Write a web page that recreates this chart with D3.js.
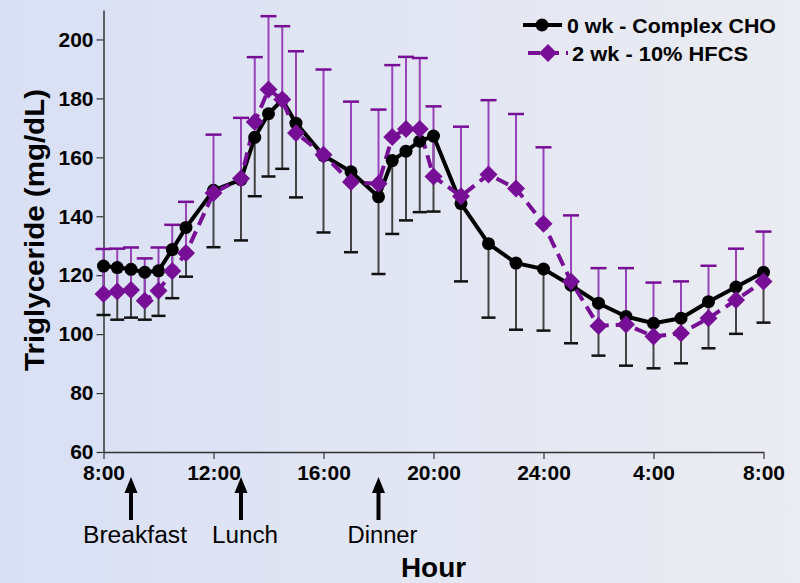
<!DOCTYPE html>
<html>
<head>
<meta charset="utf-8">
<script src="https://cdn.jsdelivr.net/npm/d3@7"></script>
<style>
  html, body { margin: 0; padding: 0; }
  body { width: 800px; height: 583px; overflow: hidden; }
  svg { display: block; font-family: "Liberation Sans", Arial, sans-serif; }
</style>
</head>
<body>
<svg id="chart" width="800" height="583"></svg>
<script>
// Sampling times, hours after 8:00
const hours = [0, 0.5, 1, 1.5, 2, 2.5, 3, 4, 5, 5.5, 6, 6.5, 7, 8, 9, 10, 10.5, 11, 11.5, 12,
               13, 14, 15, 16, 17, 18, 19, 20, 21, 22, 23, 24];

// 0 wk - Complex CHO: mean and lower error limit (mg/dL)
const complexMean = [123.1, 122.6, 122.0, 121.0, 121.5, 128.7, 136.2, 148.8, 152.4, 166.8, 174.8, 179.5,
                     171.6, 160.6, 155.1, 146.6, 158.9, 162.1, 165.5, 167.2, 144.3, 130.7, 124.1, 122.1,
                     116.6, 110.5, 106.0, 103.7, 105.4, 111.0, 116.0, 121.0];
const complexLow  = [106.5, 104.9, 105.6, 104.9, 106.2, 112.2, 119.5, 129.5, 131.8, 146.8, 153.5, 156.1,
                     146.4, 134.5, 127.8, 120.4, 134.0, 138.6, 141.4, 141.6, 117.9, 105.6, 101.5, 101.2,
                     96.9, 92.7, 89.3, 88.4, 90.1, 95.2, 100.1, 103.9];

// 2 wk - 10% HFCS: mean and upper error limit (mg/dL)
const hfcsMean = [113.6, 114.5, 115.0, 111.3, 114.7, 121.4, 127.5, 147.9, 152.8, 172.0, 183.0, 179.6,
                  168.3, 160.9, 151.6, 151.0, 166.9, 169.6, 169.6, 153.5, 146.8, 154.2, 149.4, 137.5,
                  117.9, 102.8, 103.3, 99.2, 100.3, 105.4, 111.6, 117.9];
const hfcsHigh = [128.9, 129.0, 129.4, 125.7, 129.4, 137.1, 144.9, 167.7, 173.4, 194.0, 207.9, 204.5,
                  196.0, 189.8, 178.9, 176.2, 191.3, 194.1, 193.7, 177.3, 170.4, 179.4, 174.7, 163.4,
                  140.3, 122.4, 122.4, 117.5, 117.9, 123.2, 129.0, 134.8];

// Axis ticks
const xTickHours  = [0, 4, 8, 12, 16, 20, 24];
const xTickLabels = ["8:00", "12:00", "16:00", "20:00", "24:00", "4:00", "8:00"];
const yTicks = [60, 80, 100, 120, 140, 160, 180, 200];

// Meals
const mealHours  = [1, 5, 10];
const mealLabels = ["Breakfast", "Lunch", "Dinner"];
const mealWidths = [104, 66, 70];

const seriesNames = ["0 wk - Complex CHO", "2 wk - 10% HFCS"];

const BLACK = "#000000";
const PURPLE = "#760e96";
const PURPLE_BAR = "#9744bb";

const svg = d3.select("#chart");

// Background
const defs = svg.append("defs");
const grad = defs.append("linearGradient").attr("id", "bg").attr("x1", 0).attr("x2", 1).attr("y1", 0).attr("y2", 0);
grad.append("stop").attr("offset", "0%").attr("stop-color", "#d9e0f5");
grad.append("stop").attr("offset", "100%").attr("stop-color", "#ebecf2");
svg.append("rect").attr("width", 800).attr("height", 583).attr("fill", "url(#bg)");

const x = d3.scaleLinear().domain([0, 24]).range([103.5, 763.5]);
const y = d3.scaleLinear().domain([60, 210]).range([452, 10]);

const font = "\"Liberation Sans\", Arial, sans-serif";

// Axes
const yAxis = svg.append("g").attr("transform", `translate(${x(0)},0)`)
  .call(d3.axisLeft(y).tickValues(yTicks).tickSize(7).tickSizeOuter(0).tickPadding(3));
const xAxis = svg.append("g").attr("transform", `translate(0,${y(60)})`)
  .call(d3.axisBottom(x).tickValues(xTickHours).tickSize(7).tickSizeOuter(0).tickPadding(6)
    .tickFormat((d, i) => xTickLabels[i]));
[yAxis, xAxis].forEach(g => {
  g.select(".domain").attr("stroke", "#333").attr("stroke-width", 1.5);
  g.selectAll(".tick line").attr("stroke", "#333").attr("stroke-width", 1.2);
  g.selectAll(".tick text").attr("fill", "#000").style("font-family", font)
    .style("font-size", "21px").style("font-weight", "bold");
});

// Axis titles
svg.append("text").attr("x", x(12)).attr("y", 577).attr("text-anchor", "middle")
  .attr("textLength", 65).attr("lengthAdjust", "spacingAndGlyphs")
  .style("font-size", "27px").style("font-weight", "bold").text("Hour");
svg.append("text").attr("transform", "translate(44,230) rotate(-90)").attr("text-anchor", "middle")
  .attr("textLength", 282).attr("lengthAdjust", "spacingAndGlyphs")
  .style("font-size", "27px").style("font-weight", "bold").text("Triglyceride (mg/dL)");

// Meal arrows and labels
const meals = svg.append("g");
mealHours.forEach((h, i) => {
  const cx = x(h);
  meals.append("line").attr("x1", cx).attr("x2", cx).attr("y1", 490).attr("y2", 520)
    .attr("stroke", "#000").attr("stroke-width", 4);
  meals.append("path").attr("d", `M${cx},477 L${cx - 6.5},493 L${cx + 6.5},493 Z`).attr("fill", "#000");
  meals.append("text").attr("x", cx + 4).attr("y", 543).attr("text-anchor", "middle")
    .attr("textLength", mealWidths[i]).attr("lengthAdjust", "spacingAndGlyphs")
    .style("font-size", "23px").text(mealLabels[i]);
});

// Error bars
const bars = svg.append("g");
hours.forEach((h, i) => {
  const cx = x(h);
  bars.append("line").attr("x1", cx).attr("x2", cx).attr("y1", y(complexMean[i])).attr("y2", y(complexLow[i]))
    .attr("stroke", "#444").attr("stroke-width", 2);
  bars.append("line").attr("x1", cx - 7).attr("x2", cx + 7).attr("y1", y(complexLow[i])).attr("y2", y(complexLow[i]))
    .attr("stroke", "#111").attr("stroke-width", 2.5);
});
hours.forEach((h, i) => {
  const cx = x(h);
  bars.append("line").attr("x1", cx).attr("x2", cx).attr("y1", y(hfcsMean[i])).attr("y2", y(hfcsHigh[i]))
    .attr("stroke", PURPLE_BAR).attr("stroke-width", 2);
  bars.append("line").attr("x1", cx - 8).attr("x2", cx + 8).attr("y1", y(hfcsHigh[i])).attr("y2", y(hfcsHigh[i]))
    .attr("stroke", PURPLE).attr("stroke-width", 2.5);
});

// Lines
const meanLine = d3.line().x((d, i) => x(hours[i])).y(d => y(d));
svg.append("path").attr("d", meanLine(complexMean)).attr("fill", "none")
  .attr("stroke", BLACK).attr("stroke-width", 4).attr("stroke-linejoin", "round");
svg.append("path").attr("d", meanLine(hfcsMean)).attr("fill", "none")
  .attr("stroke", PURPLE).attr("stroke-width", 4).attr("stroke-dasharray", "13,7");

// Markers
const diamond = (cx, cy, r) => `M${cx},${cy - r} L${cx + r},${cy} L${cx},${cy + r} L${cx - r},${cy} Z`;
svg.append("g").selectAll("circle").data(complexMean).join("circle")
  .attr("cx", (d, i) => x(hours[i])).attr("cy", d => y(d)).attr("r", 6.5).attr("fill", BLACK);
svg.append("g").selectAll("path").data(hfcsMean).join("path")
  .attr("d", (d, i) => diamond(x(hours[i]), y(d), 9)).attr("fill", PURPLE);

// Legend
const lg = svg.append("g");
lg.append("line").attr("x1", 523).attr("x2", 562).attr("y1", 25).attr("y2", 25)
  .attr("stroke", BLACK).attr("stroke-width", 4);
lg.append("circle").attr("cx", 542).attr("cy", 25).attr("r", 6.5).attr("fill", BLACK);
lg.append("text").attr("x", 567).attr("y", 32.5).attr("textLength", 209).attr("lengthAdjust", "spacingAndGlyphs")
  .style("font-size", "21px").style("font-weight", "bold").text(seriesNames[0]);
lg.append("line").attr("x1", 528).attr("x2", 568).attr("y1", 53).attr("y2", 53)
  .attr("stroke", PURPLE).attr("stroke-width", 4).attr("stroke-dasharray", "12,7");
lg.append("path").attr("d", diamond(548, 53, 9)).attr("fill", PURPLE);
lg.append("text").attr("x", 572).attr("y", 60.5).attr("textLength", 176).attr("lengthAdjust", "spacingAndGlyphs")
  .style("font-size", "21px").style("font-weight", "bold").text(seriesNames[1]);
</script>
</body>
</html>
